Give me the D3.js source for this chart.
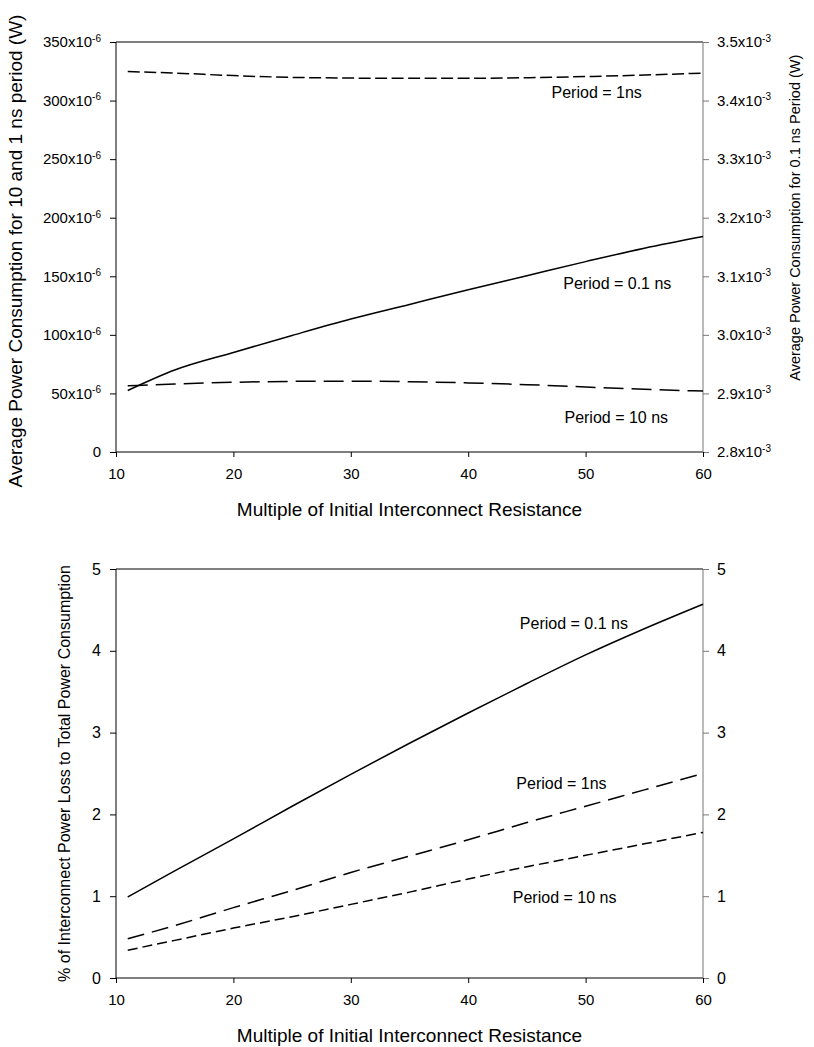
<!DOCTYPE html>
<html>
<head>
<meta charset="utf-8">
<script src="https://cdn.jsdelivr.net/npm/d3@7"></script>
<style>
  body { margin: 0; background: #fff; }
  svg { display: block; font-family: "Liberation Sans", Arial, sans-serif; }
</style>
</head>
<body>
<div id="vis"></div>
<script>
// x values shared by every series
const resMultiple = [11, 15, 20, 25, 30, 35, 40, 45, 50, 55, 60]
const xTicks = [10, 20, 30, 40, 50, 60]

// top chart: average power, 1 ns and 10 ns on the left axis (x10^-6 W), 0.1 ns on the right (x10^-3 W)
const power1ns = [324.8, 323.5, 321.3, 319.8, 319.2, 319.0, 319.0, 319.5, 320.5, 321.8, 323.5]
const power10ns = [56.5, 58.0, 59.5, 60.3, 60.5, 60.0, 59.0, 57.5, 55.5, 53.5, 52.0]
const power01ns = [2.905, 2.940, 2.970, 2.999, 3.027, 3.052, 3.077, 3.101, 3.125, 3.148, 3.168]
const topLeftTicks = [0, 50, 100, 150, 200, 250, 300, 350]
const topRightTicks = [2.8, 2.9, 3.0, 3.1, 3.2, 3.3, 3.4, 3.5]

// bottom chart: % of interconnect power loss to total power
const pct01ns = [0.99, 1.31, 1.70, 2.10, 2.49, 2.87, 3.24, 3.60, 3.95, 4.27, 4.57]
const pct1ns = [0.48, 0.64, 0.86, 1.07, 1.29, 1.49, 1.69, 1.90, 2.10, 2.30, 2.50]
const pct10ns = [0.34, 0.46, 0.61, 0.75, 0.90, 1.05, 1.21, 1.36, 1.50, 1.64, 1.78]
const pctTicks = [0, 1, 2, 3, 4, 5]

const topLabels = [
    {text: "Period = 1ns", x: 47.1, y: 302},
    {text: "Period = 0.1 ns", x: 48.1, y: 139},
    {text: "Period = 10 ns", x: 48.2, y: 25}
]
const bottomLabels = [
    {text: "Period = 0.1 ns", x: 44.4, y: 4.27},
    {text: "Period = 1ns", x: 44.1, y: 2.31},
    {text: "Period = 10 ns", x: 43.8, y: 0.92}
]

const W = 814, H = 1047
const left = 116, right = 703

let svg = d3.select("#vis").append("svg")
    .attr("width", W)
    .attr("height", H)
svg.append("rect").attr("width", W).attr("height", H).attr("fill", "#fff")

let x = d3.scaleLinear().domain([10, 60]).range([left, right])

function frame(g, top, bottom) {
    g.append("line").attr("x1", left).attr("x2", right).attr("y1", top).attr("y2", top).attr("stroke", "#000")
    g.append("line").attr("x1", left).attr("x2", left).attr("y1", top).attr("y2", bottom).attr("stroke", "#000")
    g.append("line").attr("x1", left).attr("x2", right).attr("y1", bottom).attr("y2", bottom).attr("stroke", "#000")
    g.append("line").attr("x1", right).attr("x2", right).attr("y1", top).attr("y2", bottom).attr("stroke", "#777")
}

function xAxis(g, bottom, title) {
    let ax = g.append("g")
        .attr("transform", `translate(0,${bottom})`)
        .call(d3.axisBottom(x).tickValues(xTicks).tickSize(5).tickPadding(11).tickFormat(d3.format("d")))
    ax.select(".domain").remove()
    ax.selectAll("text").attr("font-size", 15).attr("fill", "#000").attr("font-family", null)
    g.append("text")
        .attr("x", (left + right) / 2)
        .attr("y", bottom + 64)
        .attr("text-anchor", "middle")
        .attr("font-size", 19)
        .text(title)
}

function supLabels(ax, exp) {
    ax.selectAll(".tick text").each(function(d) {
        let t = d3.select(this)
        let s = t.text()
        t.text(null)
        if (d == 0 && exp == "-6") { t.text("0"); return }
        t.append("tspan").text(s + "x10")
        t.append("tspan").attr("font-size", 10).attr("dy", "-0.55em").text(exp)
    })
}

function drawLines(g, series, yScale) {
    let line = d3.line().curve(d3.curveMonotoneX)
        .x((d, i) => x(resMultiple[i]))
        .y(d => yScale(d))
    series.forEach(s => {
        g.append("path")
            .attr("d", line(s.values))
            .attr("fill", "none")
            .attr("stroke", "#000")
            .attr("stroke-width", 1.5)
            .attr("stroke-dasharray", s.dash)
    })
}

// ---------- top chart ----------
let topG = svg.append("g")
let yTop = 42, yBot = 452
let yL = d3.scaleLinear().domain([0, 350]).range([yBot, yTop])
let yR = d3.scaleLinear().domain([2.8, 3.5]).range([yBot, yTop])

frame(topG, yTop, yBot)

let axL = topG.append("g").attr("transform", `translate(${left},0)`)
    .call(d3.axisLeft(yL).tickValues(topLeftTicks).tickSize(6).tickPadding(9).tickFormat(d3.format("d")))
axL.select(".domain").remove()
axL.selectAll("text").attr("font-size", 15).attr("fill", "#000").attr("font-family", null)
supLabels(axL, "-6")

let axR = topG.append("g").attr("transform", `translate(${right},0)`)
    .call(d3.axisRight(yR).tickValues(topRightTicks).tickSize(6).tickPadding(8).tickFormat(d3.format(".1f")))
axR.select(".domain").remove()
axR.selectAll("line").attr("stroke", "#777")
axR.selectAll("text").attr("font-size", 15).attr("fill", "#000").attr("font-family", null)
supLabels(axR, "-3")

xAxis(topG, yBot, "Multiple of Initial Interconnect Resistance")

topG.append("text")
    .attr("transform", `translate(22,${(yTop + yBot) / 2 + 4}) rotate(-90)`)
    .attr("text-anchor", "middle")
    .attr("font-size", 19)
    .text("Average Power Consumption for 10 and 1 ns period (W)")
topG.append("text")
    .attr("transform", `translate(800,${yR(3.2)}) rotate(-90)`)
    .attr("text-anchor", "middle")
    .attr("font-size", 14.5)
    .text("Average Power Consumption for 0.1 ns Period (W)")

drawLines(topG, [
    {values: power1ns, dash: "12,4.5"},
    {values: power10ns, dash: "20,8"}
], yL)
drawLines(topG, [{values: power01ns, dash: null}], yR)

topG.selectAll(".lbl").data(topLabels).join("text")
    .attr("x", d => x(d.x))
    .attr("y", d => yL(d.y))
    .attr("font-size", 16)
    .text(d => d.text)

// ---------- bottom chart ----------
let botG = svg.append("g")
let bTop = 569, bBot = 978
let yP = d3.scaleLinear().domain([0, 5]).range([bBot, bTop])

frame(botG, bTop, bBot)

let axPL = botG.append("g").attr("transform", `translate(${left},0)`)
    .call(d3.axisLeft(yP).tickValues(pctTicks).tickSize(6).tickPadding(9).tickFormat(d3.format("d")))
axPL.select(".domain").remove()
axPL.selectAll("text").attr("font-size", 16).attr("fill", "#000").attr("font-family", null)

let axPR = botG.append("g").attr("transform", `translate(${right},0)`)
    .call(d3.axisRight(yP).tickValues(pctTicks).tickSize(6).tickPadding(8).tickFormat(d3.format("d")))
axPR.select(".domain").remove()
axPR.selectAll("line").attr("stroke", "#777")
axPR.selectAll("text").attr("font-size", 16).attr("fill", "#000").attr("font-family", null)

xAxis(botG, bBot, "Multiple of Initial Interconnect Resistance")

botG.append("text")
    .attr("transform", `translate(70,${(bTop + bBot) / 2}) rotate(-90)`)
    .attr("text-anchor", "middle")
    .attr("font-size", 16)
    .text("% of Interconnect Power Loss to Total Power Consumption")

drawLines(botG, [
    {values: pct01ns, dash: null},
    {values: pct1ns, dash: "17,8"},
    {values: pct10ns, dash: "10,5"}
], yP)

botG.selectAll(".lbl").data(bottomLabels).join("text")
    .attr("x", d => x(d.x))
    .attr("y", d => yP(d.y))
    .attr("font-size", 16)
    .text(d => d.text)
</script>
</body>
</html>
